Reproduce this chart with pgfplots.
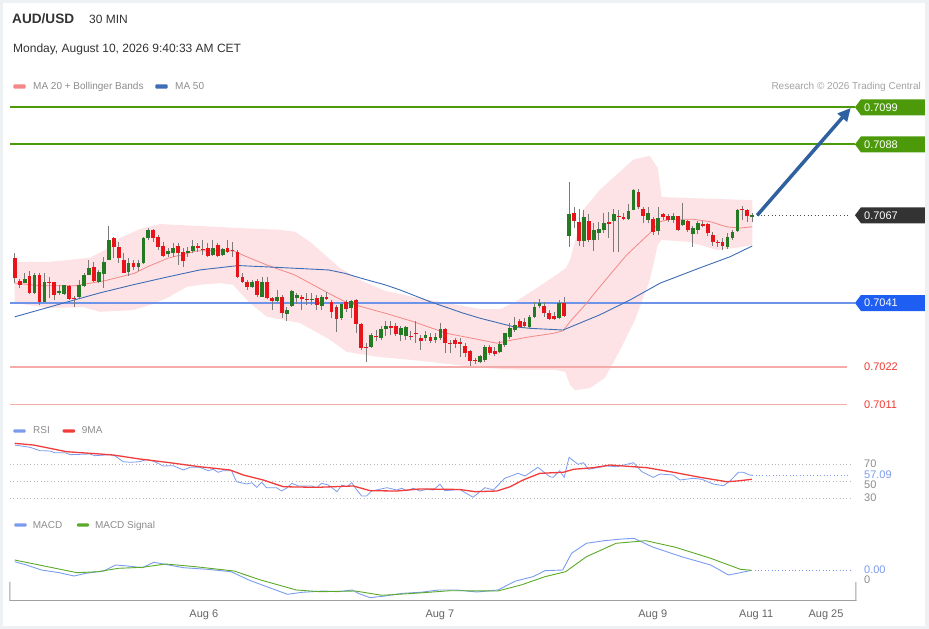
\documentclass[border=0pt]{standalone}
\usepackage{fontspec}
\setmainfont{Liberation Sans}
\usepackage{pgfplots}
\usepackage{pgfplotstable}
\pgfplotsset{compat=1.18}
\usetikzlibrary{arrows.meta}

\definecolor{frame}{HTML}{EEF1F4}
\definecolor{txt}{HTML}{333333}
\definecolor{lgd}{HTML}{8C8C8C}
\definecolor{lvgreen}{HTML}{4C9A0A}
\definecolor{tagdark}{HTML}{333333}
\definecolor{lvblue}{HTML}{6E94EA}
\definecolor{tagblue}{HTML}{1E5EF2}
\definecolor{lvred}{HTML}{F6ABAB}
\definecolor{txred}{HTML}{F03A32}
\definecolor{cgreen}{HTML}{237A23}
\definecolor{cred}{HTML}{E8141A}
\definecolor{wick}{HTML}{7A7A7A}
\definecolor{bbfill}{HTML}{FDE3E5}
\definecolor{maline}{HTML}{F48888}
\definecolor{mablue}{HTML}{3E6DB5}
\definecolor{arrowblue}{HTML}{2F609F}
\definecolor{rsiblue}{HTML}{7B9CEE}
\definecolor{rsired}{HTML}{F23C3C}
\definecolor{sigreen}{HTML}{5AAA28}
\definecolor{gridc}{HTML}{B8B8B8}
\definecolor{axgray}{HTML}{A0A0A0}
\definecolor{datec}{HTML}{666666}

\newcommand\fs[1]{\fontsize{#1pt}{#1pt}\selectfont}
\newcommand\tagbox[3]{%
  \begin{scope}[shift={(#1)}]
    \fill[#2] (0,0) -- (6,8) -- (70,8) -- (70,-8) -- (6,-8) -- cycle;
    \node[anchor=west, inner sep=0pt, text=white, font=\fs{11}] at (9,0) {#3};
  \end{scope}}

\pgfplotstableread{
i o h l c
1 0.70543 0.70559 0.70470 0.70483
2 0.70475 0.70480 0.70454 0.70463
3 0.70470 0.70499 0.70469 0.70481
4 0.70490 0.70506 0.70437 0.70439
5 0.70439 0.70498 0.70437 0.70493
6 0.70493 0.70500 0.70404 0.70414
7 0.70414 0.70498 0.70413 0.70473
8 0.70473 0.70488 0.70424 0.70470
9 0.70471 0.70473 0.70419 0.70434
10 0.70439 0.70463 0.70434 0.70446
11 0.70437 0.70464 0.70434 0.70463
12 0.70461 0.70463 0.70419 0.70422
13 0.70426 0.70431 0.70399 0.70424
14 0.70427 0.70478 0.70426 0.70463
15 0.70461 0.70498 0.70458 0.70493
16 0.70493 0.70537 0.70492 0.70513
17 0.70518 0.70532 0.70473 0.70476
18 0.70473 0.70508 0.70468 0.70501
19 0.70496 0.70547 0.70454 0.70532
20 0.70537 0.70638 0.70536 0.70597
21 0.70602 0.70606 0.70542 0.70575
22 0.70577 0.70592 0.70529 0.70542
23 0.70537 0.70557 0.70498 0.70500
24 0.70503 0.70542 0.70490 0.70529
25 0.70529 0.70537 0.70508 0.70518
26 0.70518 0.70537 0.70506 0.70529
27 0.70528 0.70606 0.70527 0.70602
28 0.70602 0.70631 0.70597 0.70626
29 0.70626 0.70629 0.70592 0.70602
30 0.70605 0.70612 0.70567 0.70577
31 0.70579 0.70592 0.70547 0.70549
32 0.70554 0.70572 0.70547 0.70565
33 0.70557 0.70587 0.70547 0.70572
34 0.70579 0.70587 0.70523 0.70559
35 0.70560 0.70572 0.70518 0.70534
36 0.70557 0.70577 0.70547 0.70565
37 0.70565 0.70597 0.70557 0.70579
38 0.70579 0.70587 0.70562 0.70572
39 0.70570 0.70597 0.70552 0.70568
40 0.70572 0.70587 0.70547 0.70549
41 0.70552 0.70597 0.70549 0.70572
42 0.70582 0.70587 0.70547 0.70549
43 0.70552 0.70572 0.70549 0.70569
44 0.70572 0.70597 0.70557 0.70562
45 0.70566 0.70592 0.70547 0.70564
46 0.70562 0.70567 0.70483 0.70488
47 0.70488 0.70498 0.70468 0.70473
48 0.70471 0.70478 0.70450 0.70456
49 0.70456 0.70478 0.70454 0.70473
50 0.70476 0.70480 0.70429 0.70434
51 0.70429 0.70488 0.70429 0.70473
52 0.70471 0.70488 0.70421 0.70424
53 0.70424 0.70429 0.70389 0.70416
54 0.70417 0.70449 0.70414 0.70427
55 0.70427 0.70434 0.70365 0.70379
56 0.70377 0.70399 0.70358 0.70389
57 0.70402 0.70449 0.70399 0.70446
58 0.70424 0.70441 0.70408 0.70434
59 0.70429 0.70434 0.70389 0.70421
60 0.70423 0.70439 0.70404 0.70421
61 0.70421 0.70441 0.70404 0.70423
62 0.70424 0.70434 0.70389 0.70404
63 0.70401 0.70434 0.70389 0.70429
64 0.70429 0.70444 0.70419 0.70422
65 0.70414 0.70419 0.70365 0.70383
66 0.70397 0.70404 0.70324 0.70362
67 0.70365 0.70414 0.70359 0.70407
68 0.70414 0.70419 0.70384 0.70392
69 0.70394 0.70419 0.70365 0.70416
70 0.70419 0.70421 0.70320 0.70347
71 0.70347 0.70352 0.70271 0.70276
72 0.70279 0.70291 0.70234 0.70277
73 0.70281 0.70321 0.70276 0.70316
74 0.70313 0.70330 0.70296 0.70308
75 0.70306 0.70341 0.70301 0.70333
76 0.70333 0.70356 0.70313 0.70341
77 0.70341 0.70356 0.70316 0.70336
78 0.70343 0.70351 0.70311 0.70318
79 0.70316 0.70341 0.70296 0.70336
80 0.70311 0.70341 0.70301 0.70338
81 0.70312 0.70326 0.70301 0.70310
82 0.70321 0.70356 0.70291 0.70318
83 0.70305 0.70315 0.70271 0.70297
84 0.70305 0.70326 0.70296 0.70315
85 0.70310 0.70321 0.70292 0.70297
86 0.70300 0.70321 0.70292 0.70310
87 0.70307 0.70350 0.70301 0.70332
88 0.70332 0.70335 0.70261 0.70291
89 0.70292 0.70301 0.70261 0.70290
90 0.70299 0.70306 0.70276 0.70289
91 0.70294 0.70306 0.70251 0.70289
92 0.70284 0.70291 0.70251 0.70261
93 0.70268 0.70271 0.70224 0.70239
94 0.70240 0.70246 0.70230 0.70238
95 0.70234 0.70256 0.70231 0.70253
96 0.70241 0.70286 0.70236 0.70281
97 0.70281 0.70286 0.70256 0.70263
98 0.70269 0.70281 0.70254 0.70258
99 0.70266 0.70296 0.70261 0.70288
100 0.70286 0.70322 0.70281 0.70320
101 0.70309 0.70350 0.70303 0.70335
102 0.70330 0.70370 0.70325 0.70345
103 0.70357 0.70362 0.70335 0.70340
104 0.70355 0.70365 0.70337 0.70342
105 0.70340 0.70375 0.70335 0.70369
106 0.70369 0.70414 0.70365 0.70399
107 0.70401 0.70421 0.70394 0.70409
108 0.70401 0.70414 0.70370 0.70379
109 0.70381 0.70389 0.70359 0.70362
110 0.70372 0.70384 0.70359 0.70362
111 0.70365 0.70419 0.70362 0.70409
112 0.70409 0.70427 0.70370 0.70372
113 0.70608 0.70768 0.70577 0.70673
114 0.70676 0.70695 0.70631 0.70654
115 0.70649 0.70690 0.70580 0.70595
116 0.70595 0.70686 0.70577 0.70664
117 0.70654 0.70673 0.70592 0.70597
118 0.70597 0.70646 0.70564 0.70626
119 0.70618 0.70651 0.70597 0.70628
120 0.70626 0.70676 0.70617 0.70646
121 0.70650 0.70681 0.70602 0.70645
122 0.70654 0.70690 0.70560 0.70673
123 0.70669 0.70686 0.70560 0.70666
124 0.70664 0.70676 0.70656 0.70660
125 0.70658 0.70703 0.70656 0.70684
126 0.70686 0.70748 0.70686 0.70745
127 0.70740 0.70747 0.70690 0.70694
128 0.70690 0.70695 0.70646 0.70667
129 0.70656 0.70695 0.70646 0.70676
130 0.70658 0.70666 0.70611 0.70621
131 0.70623 0.70695 0.70611 0.70663
132 0.70674 0.70676 0.70656 0.70665
133 0.70667 0.70673 0.70651 0.70657
134 0.70657 0.70678 0.70648 0.70669
135 0.70667 0.70669 0.70623 0.70625
136 0.70640 0.70705 0.70637 0.70657
137 0.70654 0.70657 0.70619 0.70627
138 0.70614 0.70639 0.70577 0.70632
139 0.70627 0.70653 0.70614 0.70648
140 0.70644 0.70653 0.70634 0.70639
141 0.70643 0.70648 0.70609 0.70617
142 0.70613 0.70620 0.70580 0.70591
143 0.70592 0.70597 0.70577 0.70587
144 0.70590 0.70602 0.70567 0.70580
145 0.70577 0.70617 0.70570 0.70606
146 0.70603 0.70626 0.70597 0.70621
147 0.70623 0.70690 0.70621 0.70686
148 0.70690 0.70698 0.70656 0.70687
149 0.70687 0.70690 0.70649 0.70667
150 0.70666 0.70678 0.70649 0.70671
}\candles

\begin{document}
\begin{tikzpicture}[x=1pt,y=1pt]
\fill[frame] (0,0) rectangle (929,629);
\fill[white] (3,3) rectangle (925,626);

% ---------- main price panel ----------
\begin{axis}[at={(10pt,214pt)}, anchor=south west, scale only axis,
  width=846pt, height=320pt, xmin=0.05, xmax=170.96,
  ymin=0.700782, ymax=0.710264, hide axis, enlargelimits=false]
% Bollinger band: upper band, then lower band in reverse order
\addplot[fill=bbfill, draw=none, forget plot] coordinates {
(1,0.70532) (8.1,0.70532) (16.2,0.70544) (19.2,0.70567) (22.3,0.70603) (26.3,0.70629)
(30.4,0.70644) (38.4,0.70638) (46.5,0.70632) (54.6,0.70627) (57.6,0.70621) (60.7,0.70591)
(63.7,0.70552) (66.7,0.70514) (70.8,0.70478) (75.8,0.70446) (81.5,0.70428) (88.4,0.70410)
(95,0.70392) (99.1,0.70392) (102.1,0.70413) (106.2,0.70452) (109.8,0.70487) (112.4,0.70514)
(113.2,0.70538) (115.9,0.70686) (119.2,0.70745) (122.6,0.70790) (126,0.70835) (129.3,0.70846)
(130.9,0.70810) (131.7,0.70724) (137.4,0.70721) (143.5,0.70718) (150,0.70715)
(150,0.70582) (146.5,0.70573) (142.9,0.70567) (137.4,0.70591) (131.7,0.70597) (130.9,0.70582)
(129.3,0.70478) (126.3,0.70360) (123.3,0.70271) (120.2,0.70188) (117.2,0.70158) (114.2,0.70152)
(113.2,0.70167) (112.2,0.70206) (110.2,0.70212) (103.1,0.70212) (95,0.70218) (88.3,0.70230)
(81.5,0.70241) (74.7,0.70250) (68.1,0.70265) (64.7,0.70301) (58.6,0.70351) (52,0.70369)
(48.5,0.70410) (45.1,0.70464) (42.5,0.70469) (38.4,0.70464) (35.8,0.70458) (31.8,0.70425)
(28.3,0.70404) (24.9,0.70389) (18.2,0.70384) (14.8,0.70398) (8.1,0.70395) (1,0.70410)} -- cycle;

% level lines
\draw[lvgreen, line width=2pt] (axis cs:0.05,0.7099) -- (axis cs:170.75,0.7099);
\draw[lvgreen, line width=2pt] (axis cs:0.05,0.7088) -- (axis cs:170.75,0.7088);
\draw[lvblue, line width=2pt] (axis cs:0.05,0.7041) -- (axis cs:170.75,0.7041);
\draw[lvred, line width=1.5pt] (axis cs:0.05,0.7022) -- (axis cs:169.2,0.7022);
\draw[lvred, line width=1.5pt] (axis cs:0.05,0.7011) -- (axis cs:169.2,0.7011);
\draw[black!70, line width=0.8pt, dash pattern=on 1pt off 2.6pt] (axis cs:151,0.7067) -- (axis cs:169.7,0.7067);

% moving averages
\addplot[maline, line width=0.8pt, forget plot] coordinates {
(1,0.70469) (6.4,0.70461) (13.1,0.70461) (19.2,0.70476) (25.2,0.70498) (27.9,0.70518)
(32,0.70543) (38,0.70565) (45.1,0.70565) (48.5,0.70543) (51.9,0.70523) (57.6,0.70493)
(64.4,0.70439) (67.7,0.70414) (71.1,0.70399) (75.8,0.70380) (81.5,0.70355) (88.3,0.70320)
(95,0.70301) (98.4,0.70291) (101.7,0.70301) (105.1,0.70310) (109.8,0.70320) (111.8,0.70328)
(113.2,0.70355) (116.2,0.70404) (119.2,0.70458) (124.6,0.70552) (129.3,0.70617) (131.4,0.70651)
(133.4,0.70658) (138.1,0.70658) (141.5,0.70651) (144.8,0.70636) (147.5,0.70632) (150,0.70636)};
\addplot[mablue, line width=0.9pt, forget plot] coordinates {
(1,0.70369) (11.6,0.70413) (18.2,0.70440) (24.9,0.70464) (31.8,0.70487) (38.4,0.70508)
(46.2,0.70521) (52,0.70517) (57.6,0.70513) (64.4,0.70508) (67.7,0.70498) (71.1,0.70483)
(75.8,0.70464) (78.8,0.70449) (84.9,0.70414) (91.6,0.70380) (95,0.70365) (101.7,0.70340)
(105.1,0.70335) (111.8,0.70330) (119.2,0.70375) (125.3,0.70419) (131.4,0.70469) (139.4,0.70514)
(145.5,0.70547) (150,0.70579)};

% candles: wicks, bullish bodies, bearish bodies
\addplot[draw=none, mark=none, forget plot,
  error bars/.cd, y dir=plus, y explicit, error mark=none,
  error bar style={draw=wick, line width=1pt}]
  table[x=i, y=l, y error expr=\thisrow{h}-\thisrow{l}] {\candles};
\addplot[draw=none, mark=none, forget plot,
  error bars/.cd, y dir=plus, y explicit, error mark=none,
  error bar style={draw=cgreen, line width=3.8pt}]
  table[x=i, y=o, y error expr={max(\thisrow{c}-\thisrow{o},0)}] {\candles};
\addplot[draw=none, mark=none, forget plot,
  error bars/.cd, y dir=plus, y explicit, error mark=none,
  error bar style={draw=cred, line width=3.8pt}]
  table[x=i, y=c, y error expr={max(\thisrow{o}-\thisrow{c},0)}] {\candles};

\draw[arrowblue, line width=3.5pt, -{Triangle[length=13pt,width=12pt]}]
  (axis cs:151,0.7067) -- (axis cs:169.9,0.70988);

\coordinate (p99) at (axis cs:170.75,0.7099);
\coordinate (p88) at (axis cs:170.75,0.7088);
\coordinate (p67) at (axis cs:170.75,0.7067);
\coordinate (p41) at (axis cs:170.75,0.7041);
\coordinate (p22) at (axis cs:170.75,0.7022);
\coordinate (p11) at (axis cs:170.75,0.7011);
\end{axis}

% ---------- RSI panel ----------
\begin{axis}[at={(10pt,119pt)}, anchor=south west, scale only axis,
  width=846pt, height=72pt, xmin=0.05, xmax=170.96, ymin=16.2, ymax=100.41,
  hide axis, enlargelimits=false]
\draw[gridc, line width=0.8pt, dash pattern=on 1pt off 2.4pt] (axis cs:0.05,70) -- (axis cs:169.9,70);
\draw[gridc, line width=0.8pt, dash pattern=on 1pt off 2.4pt] (axis cs:0.05,50) -- (axis cs:169.9,50);
\draw[gridc, line width=0.8pt, dash pattern=on 1pt off 2.4pt] (axis cs:0.05,30) -- (axis cs:169.9,30);
\addplot[rsiblue, line width=0.8pt] coordinates {
(1,92.2) (4.1,89.5) (6.1,85.6) (8.1,85.2) (9.1,83.2) (11.2,83.2) (12.2,80.9) (14.2,81.3)
(16.2,81.7) (17.2,79.7) (20.3,80.9) (21.3,79.4) (22.9,72.7) (24.3,72.0) (26.3,72.7) (27.7,75.5)
(29.3,72.7) (31,67.7) (33,68.0) (35.1,63.0) (36.4,66.1) (38.4,66.1) (40.1,62.2) (41.1,63.8)
(42.1,60.3) (43.1,62.2) (44.8,62.2) (45.8,49.3) (47.9,46.6) (48.9,48.1) (49.9,42.7) (50.9,48.6)
(51.9,42.3) (53.9,42.3) (54.9,38.4) (55.9,41.6) (57,47.4) (58.3,44.3) (61,44.3) (62,42.3)
(63,47.4) (64.4,45.4) (66.1,37.6) (67.1,45.4) (68.1,43.4) (69.1,48.1) (70.1,39.6) (71.1,32.6)
(72.1,32.6) (73.1,38.4) (76.2,42.3) (78.2,39.6) (79.2,41.6) (80.2,38.8) (81.5,41.6) (82.9,38.4)
(84.2,40.4) (85.6,39.6) (86.9,46.3) (87.9,38.8) (90.9,40.2) (93.6,31.1) (96,42.3) (97.7,39.6)
(100,53.3) (102.7,59.1) (104.1,56.0) (106.7,66.1) (109.1,55.1) (109.8,54.4) (111.1,62.2) (112,54.4)
(113,77.8) (114.8,69.6) (115.9,71.5) (116.9,63.8) (120.6,67.7) (122.6,66.8) (126,71.5) (127.7,61.0)
(130,54.4) (131.4,58.3) (134,57.1) (135.4,51.3) (138.1,53.3) (139.8,52.1) (142.1,46.6) (144.2,44.6)
(145.5,50.1) (147.2,60.3) (148.2,60.3) (149.6,56.8) (150,57.09)};
\addplot[rsired, line width=1.3pt] coordinates {
(1,94.2) (4.8,92.2) (11.5,84.4) (18.2,81.7) (20.9,80.5) (26.3,75.8) (31.7,72.0) (38.4,66.8)
(44.5,63.0) (47.2,57.1) (51.2,51.3) (55.3,43.4) (62,42.7) (69.4,44.3) (72.8,38.8) (78.2,38.4)
(82.9,40.8) (90.9,40.2) (94,37.6) (98.4,38.4) (101.1,43.4) (103.7,51.3) (107.1,59.1) (111.8,60.3)
(113.9,63.8) (117.9,65.7) (121.3,68.8) (126,66.8) (128.7,65.7) (134.1,60.3) (139.5,54.4) (144.8,49.3)
(146.9,50.1) (149.9,52.1)};
\draw[rsiblue, line width=0.8pt, dash pattern=on 1pt off 2.4pt] (axis cs:150,57.09) -- (axis cs:169.9,57.09);
\end{axis}

% ---------- MACD panel ----------
\begin{axis}[at={(10pt,28pt)}, anchor=south west, scale only axis,
  width=846pt, height=70pt, xmin=0.05, xmax=170.96, ymin=-0.00024, ymax=0.00046,
  enlargelimits=false, clip=false,
  axis x line=bottom, axis y line=none,
  x axis line style={-, axgray, line width=1pt},
  xtick={39.2,86.9,129.9,150.8,164.9},
  xticklabels={Aug 6,Aug 7,Aug 9,Aug 11,Aug 25},
  major tick length=0pt, ytick=\empty,
  xticklabel style={font=\fs{11}, text=datec, inner sep=0pt, yshift=-9pt}]
\draw[axgray, line width=1pt] (rel axis cs:0,0) -- ++(0,-5pt);
\draw[axgray, line width=1pt] (rel axis cs:1,0) -- ++(0,-5pt);
\addplot[rsiblue, line width=0.9pt] coordinates {
(1,0.000153) (3.4,0.000120) (6.4,0.000070) (10,0.000043) (13,0.000010) (15.4,0.000037)
(19,0.000060) (21.4,0.000120) (23.8,0.000110) (26.8,0.000093) (29.1,0.000147) (32.1,0.000120)
(35.1,0.000093) (39.9,0.000077) (44.7,0.000053) (48.3,-0.000030) (51.9,-0.000097) (56.1,-0.000173)
(59.1,-0.000153) (63.3,-0.000140) (66.3,-0.000147) (69.2,-0.000130) (70.4,-0.000163) (72.8,-0.000207)
(75.8,-0.000190) (79.4,-0.000163) (83,-0.000153) (86.6,-0.000130) (90.2,-0.000130) (94.4,-0.000150)
(98.6,-0.000130) (102.2,-0.000040) (105.7,0.000003) (108.1,0.000063) (111.7,0.000070) (113.5,0.000237)
(116.5,0.000337) (120.1,0.000363) (123.7,0.000380) (126.1,0.000387) (129.7,0.000303) (135.7,0.000203)
(141.6,0.000120) (145.2,0.000020) (147.6,0.000043) (149.8,0.000067)};
\addplot[sigreen, line width=0.9pt] coordinates {
(1,0.000170) (13.6,0.000043) (17.8,0.000053) (22,0.000087) (26.8,0.000097) (31.5,0.000130)
(37.5,0.000103) (45.3,0.000060) (50.7,-0.000030) (57.9,-0.000130) (62.7,-0.000147) (69.8,-0.000140)
(75.2,-0.000183) (81.8,-0.000163) (89,-0.000137) (98.6,-0.000140) (103.3,-0.000080) (108.1,0.000003)
(112.3,0.000053) (116.5,0.000203) (122.5,0.000337) (128.5,0.000363) (134.5,0.000297) (141.6,0.000187)
(147.6,0.000077) (149.8,0.000067)};
\draw[rsiblue, line width=0.8pt, dash pattern=on 1pt off 2.4pt] (axis cs:149.8,0.000067) -- (axis cs:169.9,0.000067);
\end{axis}

% ---------- right-hand tags ----------
\tagbox{p99}{lvgreen}{0.7099}
\tagbox{p88}{lvgreen}{0.7088}
\tagbox{p67}{tagdark}{0.7067}
\tagbox{p41}{tagblue}{0.7041}
\node[anchor=west, inner sep=0pt, text=txred, font=\fs{11}] at ([xshift=9pt]p22) {0.7022};
\node[anchor=west, inner sep=0pt, text=txred, font=\fs{11}] at ([xshift=9pt]p11) {0.7011};

\node[anchor=west, inner sep=0pt, text=lgd, font=\fs{11}] at (864,165) {70};
\node[anchor=west, inner sep=0pt, text=lgd, font=\fs{11}] at (864,144.5) {50};
\node[anchor=west, inner sep=0.5pt, fill=white, text=rsiblue, font=\fs{11}] at (863.5,154) {57.09};
\node[anchor=west, inner sep=0pt, text=lgd, font=\fs{11}] at (864,131) {30};
\node[anchor=west, inner sep=0pt, text=lgd, font=\fs{11}] at (864,49) {0};
\node[anchor=west, inner sep=0.5pt, fill=white, text=rsiblue, font=\fs{11}] at (863.5,59) {0.00};

% ---------- titles and legends ----------
\node[anchor=base west, inner sep=0pt, text=txt, font=\fs{13.6}\bfseries] at (12,605.7) {AUD/USD};
\node[anchor=base west, inner sep=0pt, text=txt, font=\fs{12}] at (89,605.7) {30 MIN};
\node[anchor=base west, inner sep=0pt, text=txt, font=\fs{12}] at (13,576.3) {Monday, August 10, 2026 9:40:33 AM CET};

\fill[maline, rounded corners=1pt] (13.3,540.3) rectangle (25.7,544.7);
\node[anchor=base west, inner sep=0pt, text=lgd, font=\fs{10}] at (33,539.5) {MA 20 + Bollinger Bands};
\fill[mablue, rounded corners=1pt] (155.3,540.3) rectangle (167.7,544.7);
\node[anchor=base west, inner sep=0pt, text=lgd, font=\fs{10}] at (175,539.5) {MA 50};
\node[anchor=base east, inner sep=0pt, text=lgd!80, font=\fs{10}] at (921,539.5) {Research © 2026 Trading Central};

\fill[rsiblue, rounded corners=1pt] (13.3,196.3) rectangle (25.7,199.7);
\node[anchor=base west, inner sep=0pt, text=lgd, font=\fs{10}] at (33,195) {RSI};
\fill[rsired, rounded corners=1pt] (62.7,196.3) rectangle (75,199.7);
\node[anchor=base west, inner sep=0pt, text=lgd, font=\fs{10}] at (81.7,195) {9MA};

\fill[rsiblue, rounded corners=1pt] (14.3,102.3) rectangle (26.7,105.7);
\node[anchor=base west, inner sep=0pt, text=lgd, font=\fs{10}] at (32.6,100.2) {MACD};
\fill[sigreen, rounded corners=1pt] (77,102.3) rectangle (89,105.7);
\node[anchor=base west, inner sep=0pt, text=lgd, font=\fs{10}] at (94.8,100.2) {MACD Signal};
\end{tikzpicture}
\end{document}
